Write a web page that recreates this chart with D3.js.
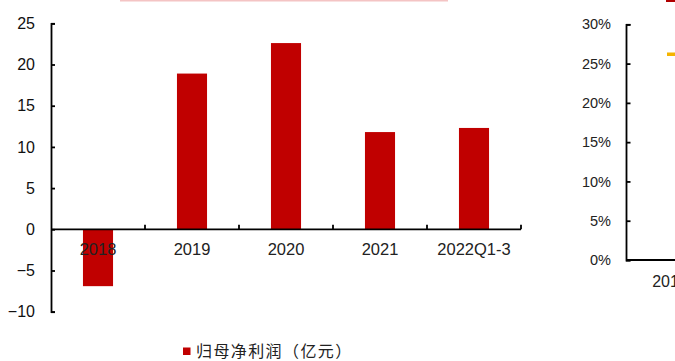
<!DOCTYPE html>
<html>
<head>
<meta charset="utf-8">
<script src="https://cdn.jsdelivr.net/npm/d3@7"></script>
<style>
  html, body { margin: 0; padding: 0; background: #fff; }
  svg { display: block; }
</style>
</head>
<body>
<svg id="chart" width="675" height="361"></svg>
<script>
// Net profit attributable to parent (100M CNY)
const categories = ["2018", "2019", "2020", "2021", "2022Q1-3"];
const profitValues = [-6.9, 18.9, 22.6, 11.8, 12.3];
const profitTicks = [-10, -5, 0, 5, 10, 15, 20, 25];
const legendLabel = "归母净利润（亿元）";

// Neighbouring ratio panel (percent axis)
const ratioCategories = ["2018", "2019"];
const ratioValues = [0.262, 0.262];
const ratioTicks = [0, 0.05, 0.10, 0.15, 0.20, 0.25, 0.30];

const svg = d3.select("#chart");
const font = "'Liberation Sans', Arial, sans-serif";

// ---------- left panel: bar chart ----------
const y = d3.scaleLinear().domain([-10, 25]).range([311.7, 23.3]);
const x = d3.scaleBand().domain(categories).range([51, 521])
  .paddingInner(0.68).paddingOuter(0.34);

svg.append("g").selectAll("rect")
  .data(categories.map((c, i) => ({ c, v: profitValues[i] })))
  .join("rect")
  .attr("x", d => x(d.c))
  .attr("width", x.bandwidth())
  .attr("y", d => y(Math.max(0, d.v)))
  .attr("height", d => Math.abs(y(d.v) - y(0)))
  .attr("fill", "#c00000");

const yAxis = svg.append("g")
  .attr("transform", "translate(51,0)")
  .call(d3.axisLeft(y).tickValues(profitTicks).tickFormat(d3.format("d"))
    .tickSize(-4).tickPadding(16));
yAxis.selectAll("path, line").attr("stroke", "#000").attr("stroke-width", 1.8);
yAxis.selectAll("text").attr("font-family", font).attr("font-size", 16)
  .attr("fill", "#111").text(d => d < 0 ? "\u2212" + Math.abs(d) : d);

// zero baseline with upward ticks at category boundaries
const gap = (x.step() - x.bandwidth()) / 2;
const boundaries = [x(categories[0]) - gap].concat(categories.map(c => x(c) + x.bandwidth() + gap));
const xAxisG = svg.append("g");
xAxisG.append("line")
  .attr("x1", x.range()[0]).attr("x2", x.range()[1])
  .attr("y1", y(0)).attr("y2", y(0))
  .attr("stroke", "#000").attr("stroke-width", 1.8);
xAxisG.selectAll("line.tick").data(boundaries.slice(1)).join("line")
  .attr("class", "tick")
  .attr("x1", d => d).attr("x2", d => d)
  .attr("y1", y(0)).attr("y2", y(0) - 4.5)
  .attr("stroke", "#000").attr("stroke-width", 1.8);
xAxisG.selectAll("text").data(categories).join("text")
  .attr("x", d => x(d) + x.bandwidth() / 2)
  .attr("y", y(0) + 26)
  .attr("text-anchor", "middle")
  .attr("font-family", font).attr("font-size", 16.5)
  .attr("fill", "#222")
  .text(d => d);

// legend
const legend = svg.append("g").attr("transform", "translate(183,347.5)");
legend.append("rect").attr("width", 7.5).attr("height", 7.5).attr("fill", "#c00000");
legend.append("text").attr("x", 13).attr("y", 9.5)
  .attr("font-family", "'Noto Sans CJK SC', sans-serif")
  .attr("font-size", 16).attr("letter-spacing", 1.4)
  .attr("fill", "#222").text(legendLabel);

// ---------- right panel: ratio axis (cut off) ----------
const y2 = d3.scaleLinear().domain([0, 0.30]).range([260, 24.3]);
const x2 = d3.scalePoint().domain(ratioCategories).range([670, 770]);

const y2Axis = svg.append("g")
  .attr("transform", "translate(626,0)")
  .call(d3.axisLeft(y2).tickValues(ratioTicks).tickFormat(d3.format(".0%"))
    .tickSize(-4.5).tickPadding(15));
y2Axis.selectAll("path, line").attr("stroke", "#000").attr("stroke-width", 1.8);
y2Axis.selectAll("text").attr("font-family", font).attr("font-size", 14.5)
  .attr("fill", "#222");

svg.append("line")
  .attr("x1", 626).attr("x2", 675).attr("y1", y2(0)).attr("y2", y2(0))
  .attr("stroke", "#000").attr("stroke-width", 1.8);

svg.append("text")
  .attr("x", x2(ratioCategories[0])).attr("y", y2(0) + 27)
  .attr("text-anchor", "middle")
  .attr("font-family", font).attr("font-size", 16).attr("fill", "#222")
  .text(ratioCategories[0]);

svg.append("path")
  .datum(ratioCategories.map((c, i) => [x2(c) - 3, y2(ratioValues[i])]))
  .attr("d", d3.line())
  .attr("fill", "none").attr("stroke", "#f5b400").attr("stroke-width", 3.5);

// title strips above the panels
svg.append("rect").attr("x", 120).attr("y", 0).attr("width", 328).attr("height", 1.5)
  .attr("fill", "#f4c4c4");
svg.append("rect").attr("x", 666).attr("y", 0).attr("width", 9).attr("height", 2)
  .attr("fill", "#b00000");
</script>
</body>
</html>
